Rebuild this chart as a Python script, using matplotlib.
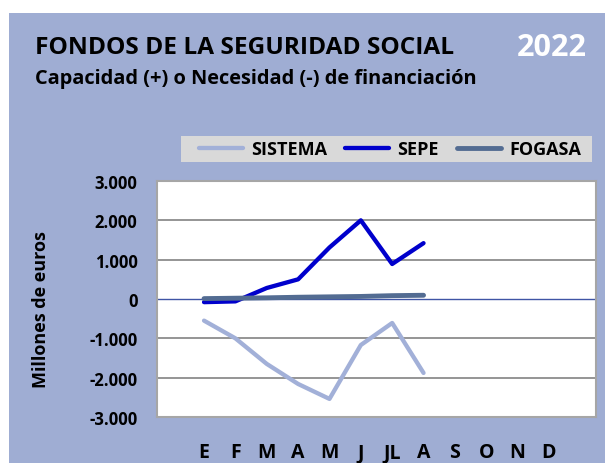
import matplotlib.pyplot as plt
from matplotlib.patches import Rectangle

months = ["E", "F", "M", "A", "M", "J", "JL", "A", "S", "O", "N", "D"]
sistema = [-550, -1000, -1650, -2160, -2540, -1170, -610, -1880]
sepe = [-80, -60, 280, 500, 1310, 2000, 890, 1420]
fogasa = [10, 20, 30, 45, 55, 65, 85, 95]
y_ticks = [-3000, -2000, -1000, 0, 1000, 2000, 3000]
y_tick_labels = ["-3.000", "-2.000", "-1.000", "0", "1.000", "2.000", "3.000"]

BG = "#9FADD3"
C_SIS = "#A2B0D8"
C_SEPE = "#0000CC"
C_FOG = "#536C92"
FONT = "Open Sans"

fig = plt.figure(figsize=(6.05, 4.64), dpi=100)
fig.patch.set_facecolor("white")
W, H = 605, 464


def fx(px):
    return px / W


def fy(py):
    return 1 - py / H


# coloured panel behind everything
fig.patches.append(Rectangle((fx(9), 0), 1 - fx(9), fy(14), transform=fig.transFigure,
                             facecolor=BG, edgecolor="none", zorder=-10))
# grey strip holding the legend
fig.patches.append(Rectangle((fx(181), fy(163)), fx(592) - fx(181), fy(137) - fy(163),
                             transform=fig.transFigure, facecolor="#D9D9D9",
                             edgecolor="none", zorder=-5))

fig.text(fx(35), fy(48), "FONDOS DE LA SEGURIDAD SOCIAL", fontsize=17.6, fontweight="bold",
         family=FONT, color="black", va="center", ha="left")
fig.text(fx(35), fy(79), "Capacidad (+) o Necesidad (-) de financiación", fontsize=14.4,
         fontweight="bold", family=FONT, color="black", va="center", ha="left")
fig.text(fx(587), fy(48), "2022", fontsize=22, fontweight="bold", family=FONT,
         color="white", va="center", ha="right")

ax = fig.add_axes([fx(157), 1 - 418 / H, (596 - 157) / W, (418 - 182) / H])
ax.set_facecolor("white")

x_idx = list(range(len(months)))
n = len(sistema)
l1, = ax.plot(x_idx[:n], sistema, color=C_SIS, lw=3.1, solid_capstyle="round", zorder=3, label="SISTEMA")
l2, = ax.plot(x_idx[:n], sepe, color=C_SEPE, lw=3.1, solid_capstyle="round", zorder=4, label="SEPE")
l3, = ax.plot(x_idx[:n], fogasa, color=C_FOG, lw=3.5, solid_capstyle="round", zorder=5, label="FOGASA")

ax.set_xlim(-1.5, 12.5)
ax.set_ylim(-3000, 3000)
ax.set_yticks(y_ticks)
ax.set_yticklabels(y_tick_labels)
for t in y_ticks:
    if t == 0:
        ax.axhline(0, color="#3F55A5", lw=1.0, zorder=2)
    elif abs(t) != 3000:
        ax.axhline(t, color="#8C8C8C", lw=1.3, zorder=1)
ax.set_xticks(x_idx)
ax.set_xticklabels(months)
ax.tick_params(axis="both", length=0)
ax.tick_params(axis="y", pad=14, labelsize=12)
ax.tick_params(axis="x", pad=18, labelsize=14)
for lab in ax.get_yticklabels() + ax.get_xticklabels():
    lab.set_fontweight("bold")
    lab.set_family(FONT)
for s in ax.spines.values():
    s.set_color("#A6A6A6")
    s.set_linewidth(1.5)

ax.set_ylabel("Millones de euros", fontsize=13, fontweight="bold", family=FONT)
ax.yaxis.set_label_coords((50 - 157) / (596 - 157), (418 - 310) / (418 - 182))

leg = fig.legend(handles=[l1, l2, l3], loc="center",
                 bbox_to_anchor=(fx(390), fy(150)), ncol=3, frameon=False,
                 handlelength=2.45, handletextpad=0.45, columnspacing=1.0, borderaxespad=0,
                 prop={"family": FONT, "weight": "bold", "size": 13})

fig.savefig("out.png", dpi=100, facecolor=fig.get_facecolor())
